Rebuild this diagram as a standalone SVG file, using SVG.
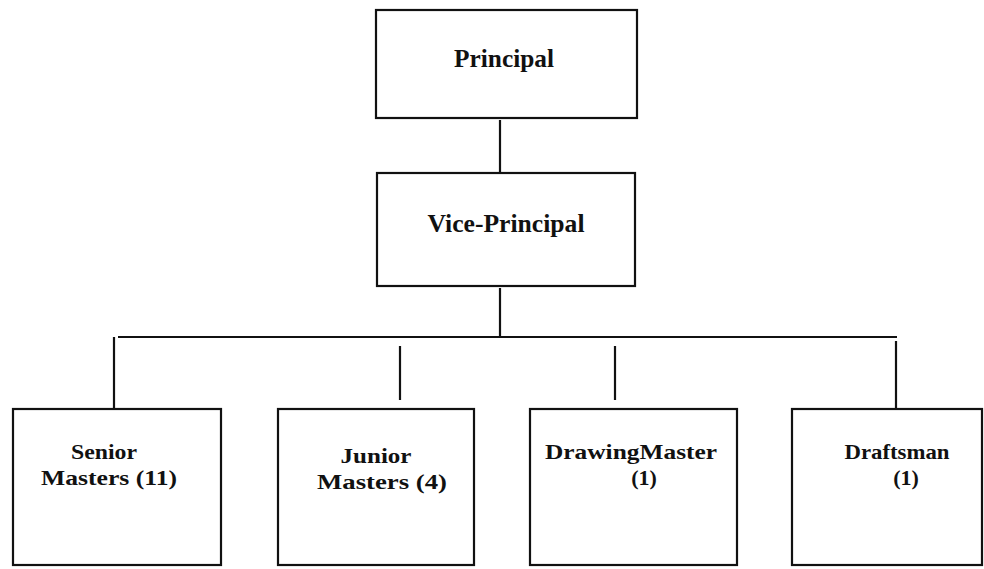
<svg xmlns="http://www.w3.org/2000/svg" width="984" height="569" viewBox="0 0 984 569">
<style>
.box{fill:none;stroke:#111;stroke-width:2.2}
.ln{fill:none;stroke:#111;stroke-width:2.2}
text{font-family:"Liberation Serif","Times New Roman",serif;font-size:25px;fill:#111;text-anchor:middle;font-weight:bold}
.s{font-size:22px}
</style>
<rect width="984" height="569" fill="#fff"/>
<g id="connectors">
<line class="ln" x1="500" y1="120" x2="500" y2="172"/>
<line class="ln" x1="500" y1="288" x2="500" y2="337"/>
<line class="ln" x1="118" y1="337" x2="897" y2="337"/>
<line class="ln" x1="114" y1="337" x2="114" y2="408"/>
<line class="ln" x1="400" y1="346" x2="400" y2="400"/>
<line class="ln" x1="615" y1="346" x2="615" y2="400"/>
<line class="ln" x1="896" y1="341" x2="896" y2="408"/>
</g>
<g id="principal">
<rect class="box" x="376" y="10" width="261" height="108"/>
<text x="504" y="67" textLength="100" lengthAdjust="spacingAndGlyphs">Principal</text>
</g>
<g id="vice-principal">
<rect class="box" x="377" y="173" width="258" height="113"/>
<text x="506" y="232" textLength="157" lengthAdjust="spacingAndGlyphs">Vice-Principal</text>
</g>
<g id="senior-masters">
<rect class="box" x="13" y="409" width="208" height="156"/>
<text class="s" x="104" y="459" textLength="66" lengthAdjust="spacingAndGlyphs">Senior</text>
<text class="s" x="109" y="485" textLength="136" lengthAdjust="spacingAndGlyphs">Masters (11)</text>
</g>
<g id="junior-masters">
<rect class="box" x="278" y="409" width="196" height="156"/>
<text class="s" x="376" y="463" textLength="71" lengthAdjust="spacingAndGlyphs">Junior</text>
<text class="s" x="382" y="489" textLength="130" lengthAdjust="spacingAndGlyphs">Masters  (4)</text>
</g>
<g id="drawing-master">
<rect class="box" x="530" y="409" width="207" height="156"/>
<text class="s" x="631" y="459" textLength="172" lengthAdjust="spacingAndGlyphs">DrawingMaster</text>
<text class="s" x="644" y="485">(1)</text>
</g>
<g id="draftsman">
<rect class="box" x="792" y="409" width="190" height="156"/>
<text class="s" x="897" y="459" textLength="105" lengthAdjust="spacingAndGlyphs">Draftsman</text>
<text class="s" x="906" y="485">(1)</text>
</g>
</svg>
